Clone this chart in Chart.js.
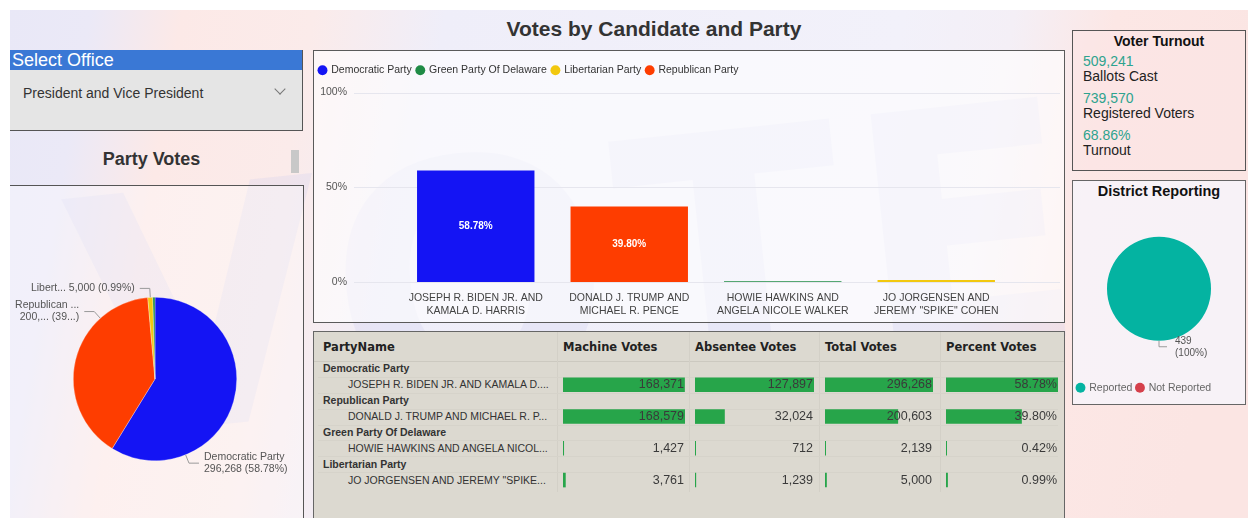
<!DOCTYPE html>
<html>
<head>
<meta charset="utf-8">
<script src="https://cdn.jsdelivr.net/npm/chart.js@4.4.1/dist/chart.umd.min.js"></script>
<style>
html, body { margin: 0; padding: 0; width: 1248px; height: 518px; overflow: hidden; background: #fff; font-family: "Liberation Sans", Arial, sans-serif; }
.abs { position: absolute; box-sizing: border-box; }
#bg { left: 10px; top: 10px; width: 1238px; height: 508px; overflow: hidden;
  background: linear-gradient(100deg, #e9e8f7 0px, #ebe9f7 80px, #fce9e7 170px, #fbebea 300px, #efeef9 430px, #f2f1fa 880px, #f4eff6 990px, #fce7e5 1090px, #fbe5e3 1238px); }
#wm { left: 60px; top: 70px; font: bold 330px "DejaVu Sans", sans-serif; color: rgba(205,204,238,0.25); transform: rotate(-6deg); letter-spacing: 10px; white-space: nowrap; }
#title { left: 314px; top: 17px; width: 680px; text-align: center; font: bold 21px "Liberation Sans", Arial, sans-serif; color: #333; }
#selHead { left: 10px; top: 50px; width: 293px; height: 20px; background: #3a78d5; color: #fff; font-size: 18px; line-height: 20px; padding-left: 2px; border-right: 1px solid #555; }
#selBox { left: 10px; top: 70px; width: 293px; height: 61px; background: #e5e5e5; border-right: 1px solid #555; border-bottom: 1px solid #555; }
#selText { left: 23px; top: 85px; font-size: 14px; color: #333; }
#chev { left: 276px; top: 85px; width: 8px; height: 8px; border-right: 1px solid #777; border-bottom: 1px solid #777; transform: rotate(45deg); }
#pvTitle { left: 10px; top: 149px; width: 283px; text-align: center; font: bold 18px "Liberation Sans", Arial, sans-serif; color: #333; }
#scroll { left: 291px; top: 150px; width: 8px; height: 23px; background: #c8c8c8; }
#piePanel { left: 10px; top: 185px; width: 294px; height: 345px; border-top: 1px solid #555; border-right: 1px solid #555; background: rgba(255,255,255,0.35); }
#barPanel { left: 313px; top: 50px; width: 752px; height: 273px; border: 1px solid #5a5a5a; background: rgba(255,255,255,0.6); }
#tablePanel { left: 313px; top: 331px; width: 752px; height: 200px; border: 1px solid #666; background: #dcd9d0; }
#turnPanel { left: 1072px; top: 30px; width: 174px; height: 141px; border: 1px solid #555; background: rgba(252,228,228,0.6); }
#distPanel { left: 1072px; top: 180px; width: 174px; height: 225px; border: 1px solid #666; background: rgba(246,245,251,0.8); }
.ptitle { text-align: center; font: bold 14px "Liberation Sans", Arial, sans-serif; color: #111; width: 174px; }
.kpiv { font-size: 14px; color: #2ea38e; }
.kpil { font-size: 14px; color: #222; }
.th { font: bold 11.5px "DejaVu Sans", sans-serif; color: #222; top: 340px; }
.party { font: bold 10.5px "Liberation Sans", Arial, sans-serif; color: #333; left: 323px; }
.cand { font-size: 10.5px; color: #333; left: 348px; white-space: nowrap; }
.num { font-size: 12.5px; color: #3a3a3a; text-align: right; width: 120px; }
.hline { height: 1px; background: #ccc9c0; }
.vline { width: 1px; background: #d3d0c7; }
canvas { position: absolute; }
</style>
</head>
<body>
<div id="bg" class="abs"><div id="wm" class="abs">VOTE</div></div>
<div id="title" class="abs">Votes by Candidate and Party</div>

<div id="selHead" class="abs">Select Office</div>
<div id="selBox" class="abs"></div>
<div id="selText" class="abs">President and Vice President</div>
<div id="chev" class="abs"></div>
<div id="pvTitle" class="abs">Party Votes</div>
<div id="scroll" class="abs"></div>
<div id="piePanel" class="abs"></div>

<div id="barPanel" class="abs"></div>
<div id="tablePanel" class="abs"></div>

<div id="turnPanel" class="abs"></div>
<div class="abs ptitle" style="left:1072px;top:33px;">Voter Turnout</div>
<div class="abs kpiv" style="left:1083px;top:53px;">509,241</div>
<div class="abs kpil" style="left:1083px;top:68px;">Ballots Cast</div>
<div class="abs kpiv" style="left:1083px;top:90px;">739,570</div>
<div class="abs kpil" style="left:1083px;top:105px;">Registered Voters</div>
<div class="abs kpiv" style="left:1083px;top:127px;">68.86%</div>
<div class="abs kpil" style="left:1083px;top:142px;">Turnout</div>

<div id="distPanel" class="abs"></div>
<div class="abs ptitle" style="left:1072px;top:183px;font-size:14.5px;">District Reporting</div>

<canvas id="barChart" width="750" height="271" style="left:314px;top:51px;"></canvas>
<canvas id="pieChart" width="291" height="332" style="left:11px;top:186px;"></canvas>
<canvas id="distChart" width="172" height="205" style="left:1073px;top:198px;"></canvas>
<div id="table"></div>

<script>
// data
const parties = ["Democratic Party", "Republican Party", "Green Party Of Delaware", "Libertarian Party"];
const candidates = [
    ["JOSEPH R. BIDEN JR. AND", "KAMALA D. HARRIS"],
    ["DONALD J. TRUMP AND", "MICHAEL R. PENCE"],
    ["HOWIE HAWKINS AND", "ANGELA NICOLE WALKER"],
    ["JO JORGENSEN AND", "JEREMY \"SPIKE\" COHEN"]
];
const tableNames = [
    "JOSEPH R. BIDEN JR. AND KAMALA D....",
    "DONALD J. TRUMP AND MICHAEL R. P...",
    "HOWIE HAWKINS AND ANGELA NICOL...",
    "JO JORGENSEN AND JEREMY \"SPIKE..."
];
const machineVotes = [168371, 168579, 1427, 3761];
const absenteeVotes = [127897, 32024, 712, 1239];
const totalVotes = [296268, 200603, 2139, 5000];
const percentVotes = [58.78, 39.80, 0.42, 0.99];
const partyColors = ["#1414f4", "#fe3d00", "#1f8b45", "#f2c80f"];
const legendOrder = [0, 2, 3, 1];
const pieOrder = [0, 1, 3, 2];
const pieLabels = [["Democratic Party", "296,268 (58.78%)"], ["Republican ...", "200,... (39...)"], ["Libert... 5,000 (0.99%)"], null];
const pieLabelAngles = [158, 318, 356.7, null];
const pieLabelSides = ["right", "left", "left", null];
const districtLabels = ["Reported", "Not Reported"];
const districtValues = [439, 0];
const districtColors = ["#04b3a1", "#d5404b"];

Chart.defaults.font.family = '"Liberation Sans", Arial, sans-serif';
Chart.defaults.animation = false;

// faint y grid that runs past the category padding, like the original
const wideGrid = {
    id: "wideGrid",
    beforeDatasetsDraw(chart) {
        const ctx = chart.ctx, y = chart.scales.y, a = chart.chartArea;
        ctx.save();
        ctx.strokeStyle = "#e6e6ee";
        ctx.lineWidth = 1;
        y.ticks.forEach((t) => {
            const py = Math.round(y.getPixelForValue(t.value)) + 0.5;
            ctx.beginPath();
            ctx.moveTo(a.left - 45, py);
            ctx.lineTo(a.right + 47, py);
            ctx.stroke();
        });
        ctx.restore();
    }
};

const barValueLabels = {
    id: "barValueLabels",
    afterDatasetsDraw(chart) {
        const ctx = chart.ctx;
        ctx.save();
        ctx.fillStyle = "#fff";
        ctx.font = 'bold 10px "Liberation Sans", Arial, sans-serif';
        ctx.textAlign = "center";
        ctx.textBaseline = "middle";
        chart.data.datasets.forEach((ds, di) => {
            chart.getDatasetMeta(di).data.forEach((bar, i) => {
                const v = ds.data[i];
                if (v == null || v < 5) return;
                ctx.fillText(v.toFixed(2) + "%", bar.x, (bar.y + bar.base) / 2);
            });
        });
        ctx.restore();
    }
};

// a little extra room under the legend
const legendGap = {
    id: "legendGap",
    beforeInit(chart) {
        const fit = chart.legend.fit;
        chart.legend.fit = function () {
            fit.call(this);
            this.height += 7;
        };
    }
};

new Chart(document.getElementById("barChart"), {
    type: "bar",
    data: {
        labels: candidates,
        datasets: legendOrder.map((i) => ({
            label: parties[i],
            data: candidates.map((c, j) => (j === i ? percentVotes[i] : null)),
            backgroundColor: partyColors[i],
            barPercentage: 0.765,
            categoryPercentage: 1
        }))
    },
    options: {
        responsive: false,
        layout: { padding: { top: 9, right: 51, left: 0, bottom: 0 } },
        plugins: {
            legend: {
                position: "top",
                align: "start",
                labels: { usePointStyle: true, pointStyle: "circle", boxWidth: 7, boxHeight: 7, padding: 5, color: "#333", font: { size: 10.5 } }
            },
            tooltip: { enabled: false }
        },
        scales: {
            x: {
                stacked: true,
                grid: { display: false, drawTicks: false },
                border: { display: false },
                ticks: { color: "#444", font: { size: 10.5 }, padding: 10, maxRotation: 0, autoSkip: false },
                afterFit: (s) => { s.height = 40; }
            },
            y: {
                stacked: true,
                min: 0,
                max: 100,
                grid: { display: false, drawTicks: false },
                border: { display: false },
                ticks: { stepSize: 50, color: "#555", font: { size: 10.5 }, padding: 52, callback: (v) => v + "%" },
                afterFit: (s) => { s.width = 85; s.paddingTop = 40; s.paddingBottom = 6; }
            }
        }
    },
    plugins: [legendGap, wideGrid, barValueLabels]
});

// leader-line labels for pie slices
function sliceLabels(opts) {
    return {
        id: "sliceLabels",
        afterDatasetsDraw(chart) {
            const ctx = chart.ctx;
            const arc = chart.getDatasetMeta(0).data[0];
            const cx = arc.x, cy = arc.y, r = arc.outerRadius;
            ctx.save();
            ctx.font = opts.font;
            ctx.textBaseline = "middle";
            opts.texts.forEach((lines, i) => {
                if (!lines) return;
                const rad = (opts.angles[i] - 90) * Math.PI / 180;
                const px = cx + r * Math.cos(rad), py = cy + r * Math.sin(rad);
                const ex = cx + (r + opts.out) * Math.cos(rad), ey = cy + (r + opts.out) * Math.sin(rad);
                const dir = opts.sides[i] === "right" ? 1 : -1;
                const hx = ex + dir * opts.run;
                ctx.strokeStyle = "#9a9a9a";
                ctx.lineWidth = 1;
                ctx.beginPath();
                ctx.moveTo(px, py);
                ctx.lineTo(ex, ey);
                ctx.lineTo(hx, ey);
                ctx.stroke();
                ctx.fillStyle = "#555";
                ctx.textAlign = dir > 0 ? "left" : "right";
                const lh = 12;
                lines.forEach((t, k) => {
                    ctx.fillText(t, hx + dir * opts.gap, ey + (k - (lines.length - 1) / 2) * lh);
                });
            });
            ctx.restore();
        }
    };
}

new Chart(document.getElementById("pieChart"), {
    type: "pie",
    data: {
        labels: pieOrder.map((i) => parties[i]),
        datasets: [{
            data: pieOrder.map((i) => totalVotes[i]),
            backgroundColor: pieOrder.map((i) => partyColors[i]),
            borderColor: "rgba(255,255,255,0.6)",
            borderWidth: 0.5
        }]
    },
    options: {
        responsive: false,
        layout: { padding: { left: 62, right: 65, top: 111, bottom: 57 } },
        plugins: { legend: { display: false }, tooltip: { enabled: false } }
    },
    plugins: [sliceLabels({
        texts: pieLabels,
        angles: pieLabelAngles,
        sides: pieLabelSides,
        font: '10.5px "Liberation Sans", Arial, sans-serif',
        out: 9, run: 10, gap: 5
    })]
});

new Chart(document.getElementById("distChart"), {
    type: "pie",
    data: {
        labels: districtLabels,
        datasets: [{ data: districtValues, backgroundColor: districtColors, borderWidth: 0 }]
    },
    options: {
        responsive: false,
        radius: 52,
        layout: { padding: { left: 0, right: 0, top: 1, bottom: 0 } },
        plugins: {
            legend: {
                position: "bottom",
                align: "start",
                labels: { usePointStyle: true, pointStyle: "circle", boxWidth: 7, boxHeight: 7, padding: 4, color: "#666", font: { size: 10.5 } }
            },
            tooltip: { enabled: false }
        }
    },
    plugins: [sliceLabels({
        texts: [[String(districtValues[0]), "(100%)"], null],
        angles: [180, null],
        sides: ["right", null],
        font: '10px "Liberation Sans", Arial, sans-serif',
        out: 6, run: 8, gap: 8
    })]
});

// matrix table with data bars
const table = document.getElementById("table");
function add(cls, style, text) {
    const d = document.createElement("div");
    d.className = "abs " + cls;
    d.setAttribute("style", style);
    if (text != null) d.textContent = text;
    table.appendChild(d);
    return d;
}
const rowTop = 361, rowH = 15.875;
const cols = [
    { name: "Machine Votes", left: 563, width: 122, values: machineVotes, fmt: (v) => v.toLocaleString("en-US") },
    { name: "Absentee Votes", left: 695, width: 119, values: absenteeVotes, fmt: (v) => v.toLocaleString("en-US") },
    { name: "Total Votes", left: 825, width: 108, values: totalVotes, fmt: (v) => v.toLocaleString("en-US") },
    { name: "Percent Votes", left: 946, width: 112, values: percentVotes, fmt: (v) => v.toFixed(2) + "%" }
];
add("th", "left:323px;", "PartyName");
cols.forEach((c) => add("th", "left:" + c.left + "px;", c.name));
add("hline", "left:314px;top:361px;width:750px;");
[557, 689, 819, 940].forEach((x) => add("vline", "left:" + x + "px;top:332px;height:160px;"));
for (let k = 1; k < 8; k++) {
    add("hline", "left:318px;top:" + Math.round(rowTop + k * rowH) + "px;width:740px;background:#d6d3ca;");
}
parties.forEach((p, i) => {
    const yHead = rowTop + (2 * i + 0.5) * rowH, yRow = rowTop + (2 * i + 1.5) * rowH;
    add("party", "top:" + (yHead - 6.5) + "px;", p);
    add("cand", "top:" + (yRow - 6.5) + "px;", tableNames[i]);
});

cols.forEach((c) => {
    const cv = document.createElement("canvas");
    cv.width = c.width;
    cv.height = Math.round(rowH * 8);
    cv.style.left = c.left + "px";
    cv.style.top = rowTop + "px";
    table.appendChild(cv);
    const slots = [];
    c.values.forEach((v) => { slots.push(null, v); });
    new Chart(cv, {
        type: "bar",
        data: {
            labels: slots.map((s, k) => k),
            datasets: [{ data: slots, backgroundColor: "#27a54a", barPercentage: 0.92, categoryPercentage: 1, minBarLength: 1 }]
        },
        options: {
            responsive: false,
            indexAxis: "y",
            layout: { padding: 0 },
            plugins: { legend: { display: false }, tooltip: { enabled: false } },
            scales: {
                x: { display: false, min: 0, max: Math.max(...c.values) },
                y: { display: false }
            }
        }
    });
    c.values.forEach((v, i) => {
        const yRow = rowTop + (2 * i + 1.5) * rowH;
        add("num", "left:" + (c.left + c.width - 121) + "px;top:" + (yRow - 7.5) + "px;", c.fmt(v));
    });
});
</script>
</body>
</html>
